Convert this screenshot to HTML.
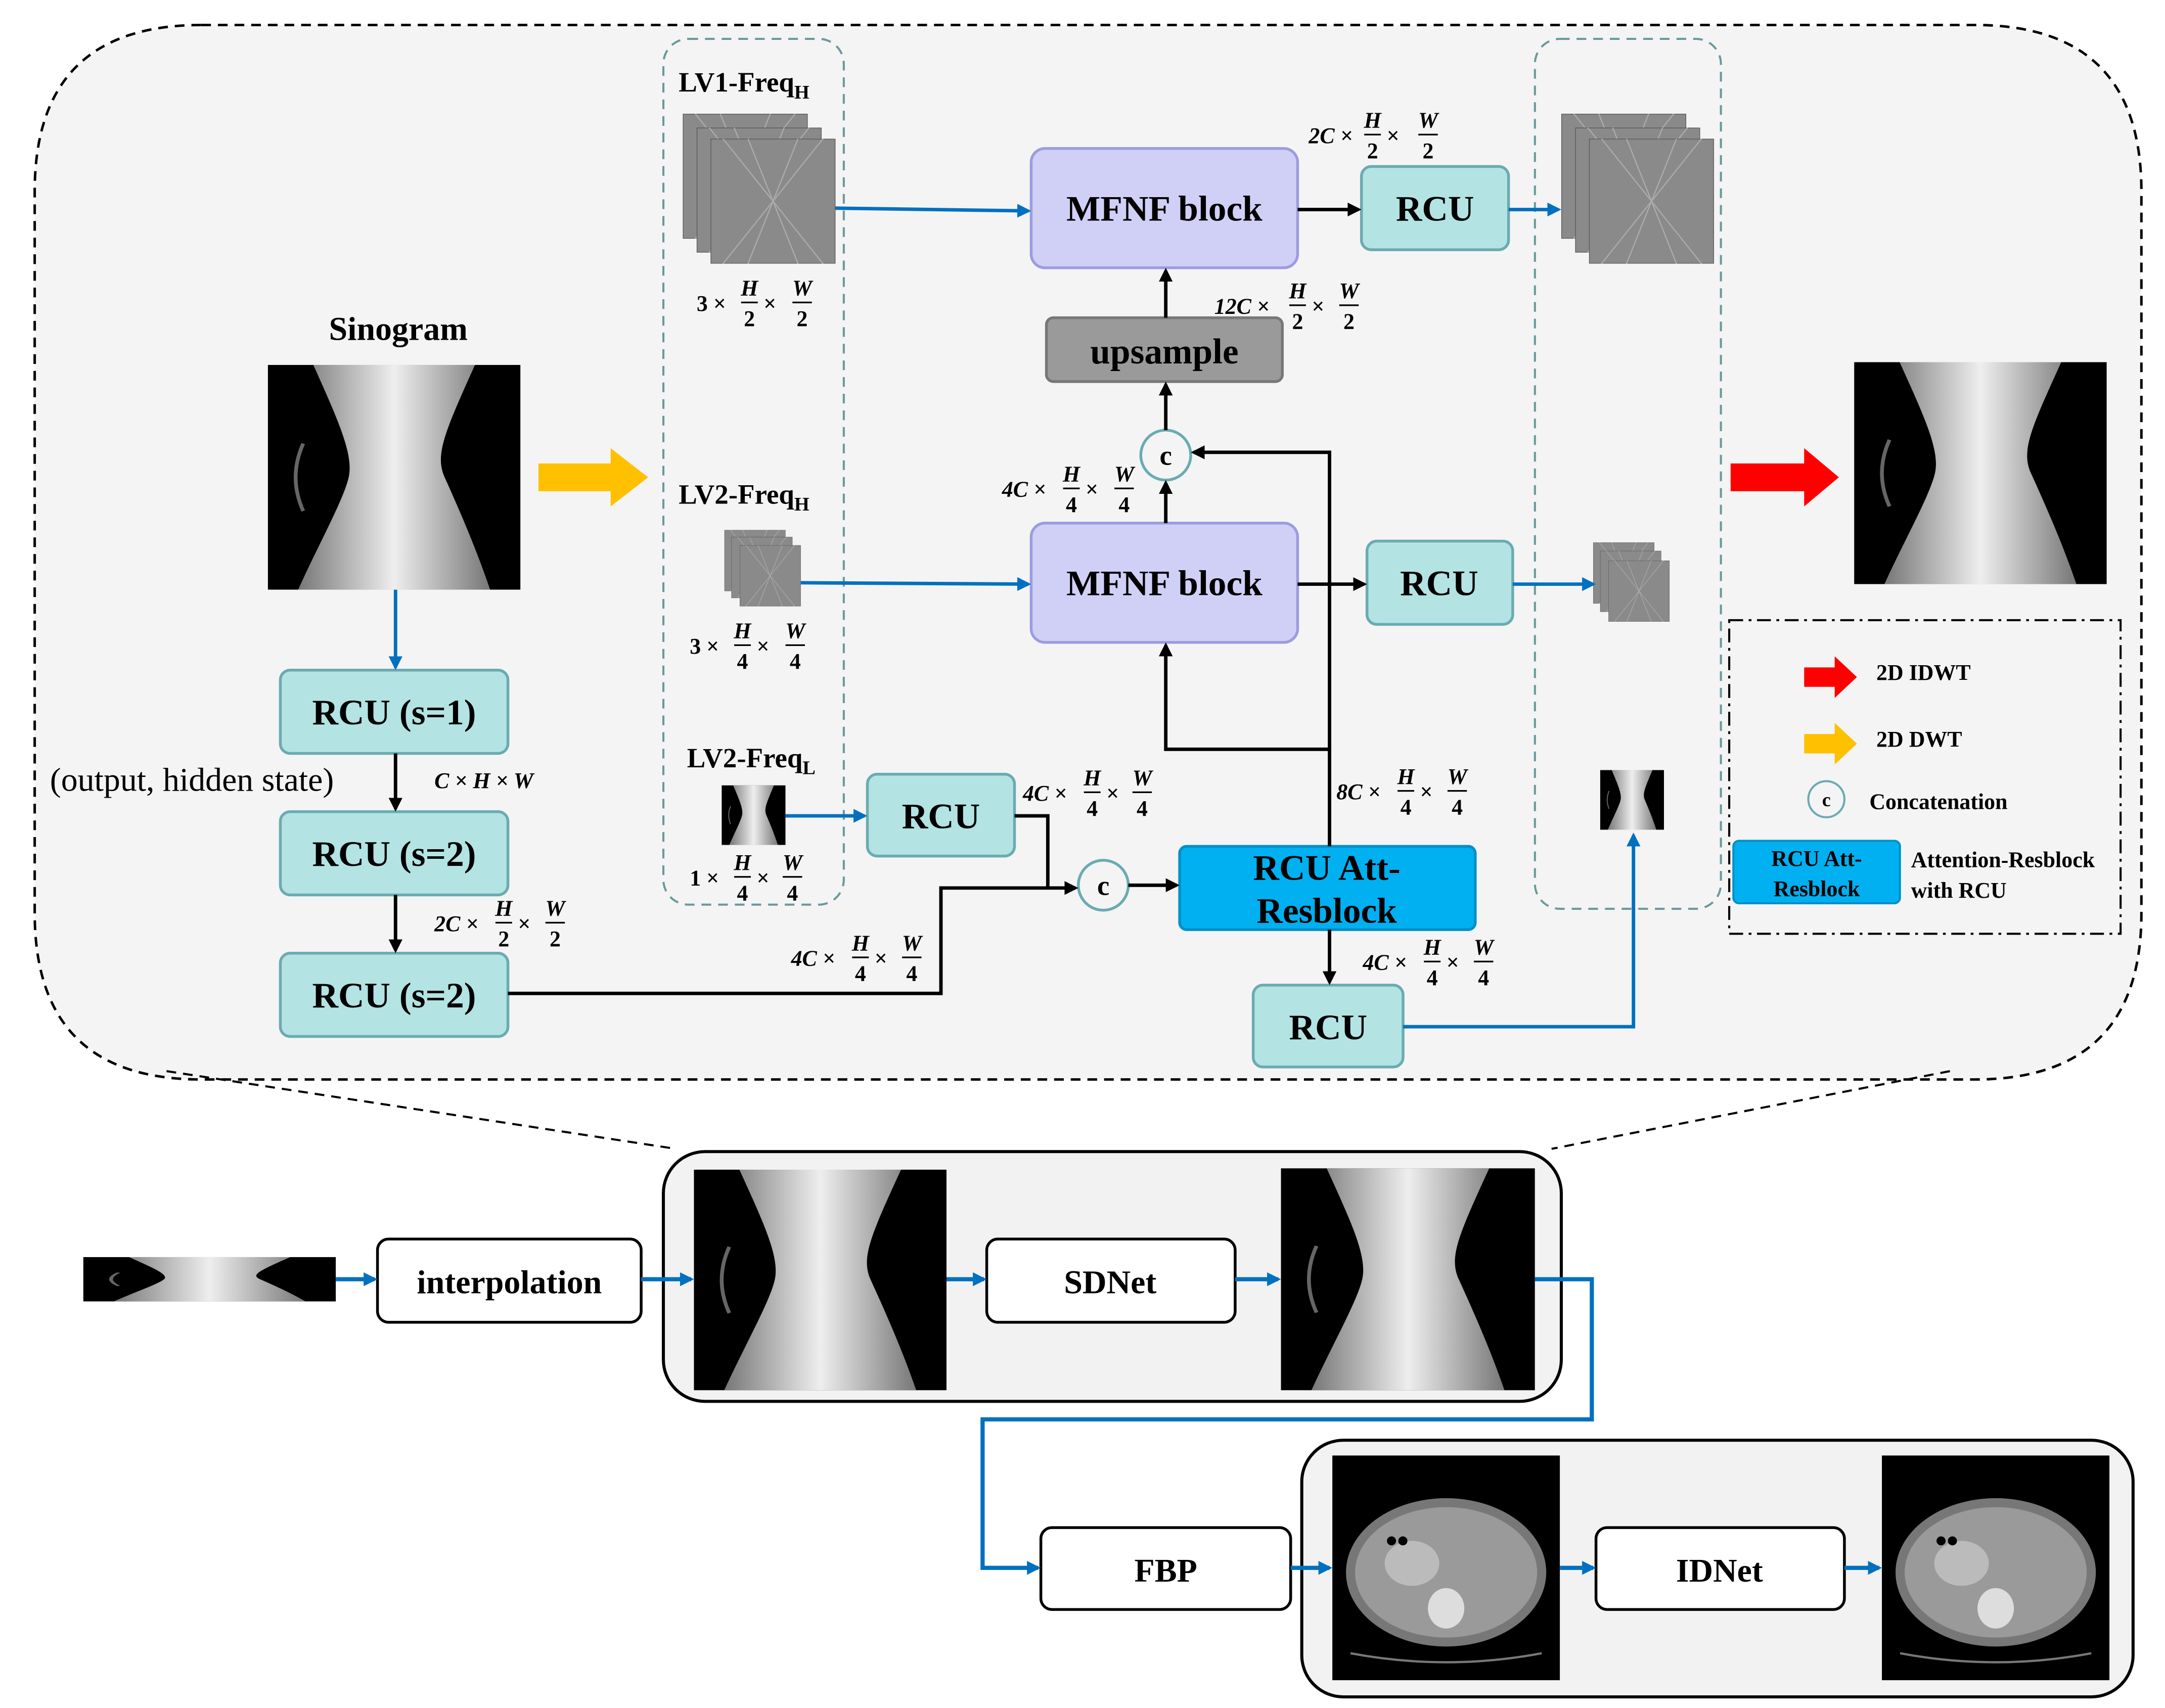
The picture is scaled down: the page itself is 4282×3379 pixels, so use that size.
<!DOCTYPE html>
<html><head><meta charset="utf-8"><style>html,body{margin:0;padding:0;background:#fff}svg{display:block}</style></head>
<body>
<svg width="4282" height="3379" viewBox="0 0 1560 1231" xmlns="http://www.w3.org/2000/svg" font-family="'Liberation Serif',serif">
<defs>
<marker id="ab" markerWidth="10" markerHeight="10" refX="8" refY="5" orient="auto" markerUnits="userSpaceOnUse"><path d="M0,0 L10,5 L0,10 z" fill="#0070c0"/></marker>
<marker id="ak" markerWidth="10" markerHeight="10" refX="8" refY="5" orient="auto" markerUnits="userSpaceOnUse"><path d="M0,0 L10,5 L0,10 z" fill="#000"/></marker>
<linearGradient id="sg" x1="0" x2="1"><stop offset="0" stop-color="#777"/><stop offset="0.5" stop-color="#eee"/><stop offset="1" stop-color="#777"/></linearGradient>
<symbol id="sino" viewBox="0 0 100 100" preserveAspectRatio="none">
<rect width="100" height="100" fill="#000"/>
<path d="M18,0 L82,0 C70,30 66,40 70,50 C74,60 82,80 88,100 L12,100 C20,80 30,60 32,50 C34,40 28,25 18,0 z" fill="url(#sg)"/>
<path d="M14,35 C10,45 10,55 14,65" stroke="#666" stroke-width="1.5" fill="none"/>
</symbol>
<symbol id="ct" viewBox="0 0 100 100" preserveAspectRatio="none">
<rect width="100" height="100" fill="#000"/>
<ellipse cx="50" cy="52" rx="44" ry="33" fill="#777"/>
<ellipse cx="50" cy="52" rx="40" ry="29" fill="#9a9a9a"/>
<ellipse cx="35" cy="48" rx="12" ry="10" fill="#bbb"/>
<ellipse cx="50" cy="68" rx="8" ry="9" fill="#ddd"/>
<circle cx="26" cy="38" r="2" fill="#000"/><circle cx="31" cy="38" r="2" fill="#000"/>
<path d="M8,88 Q50,96 92,88" stroke="#777" fill="none"/>
</symbol>
<symbol id="tex" viewBox="0 0 100 100" preserveAspectRatio="none">
<rect width="100" height="100" fill="#8a8a8a" stroke="#555"/>
<path d="M10,0 L90,100 M90,0 L10,100 M30,0 L70,100 M70,0 L30,100" stroke="#aaa" stroke-width="1"/>
</symbol>
</defs>

<!-- big dashed region -->
<path d="M145,18 L1423,18 Q1543,18 1543,138 L1543,658 Q1543,778 1423,778 L145,778 Q25,778 25,658 L25,138 Q25,18 145,18 z" fill="#f4f4f4" stroke="#000" stroke-width="1.8" stroke-dasharray="7,5"/>
<line x1="120" y1="772" x2="487" y2="828" stroke="#000" stroke-width="1.5" stroke-dasharray="7,5"/>
<line x1="1405" y1="772" x2="1118" y2="828" stroke="#000" stroke-width="1.5" stroke-dasharray="7,5"/>

<!-- dashed teal columns -->
<rect x="478" y="28" width="130" height="624" rx="18" fill="none" stroke="#6a9a9a" stroke-width="1.5" stroke-dasharray="7,5"/>
<rect x="1106" y="28" width="134" height="627" rx="18" fill="none" stroke="#6a9a9a" stroke-width="1.5" stroke-dasharray="7,5"/>

<!-- sinogram -->
<text x="287" y="245" font-size="24" font-weight="bold" text-anchor="middle">Sinogram</text>
<use href="#sino" x="193" y="263" width="182" height="162"/>
<polygon points="388,334 440,334 440,323 467,344 440,365 440,354 388,354" fill="#ffc000"/>
<polygon points="1247,334 1300,334 1300,323 1325,344 1300,365 1300,354 1247,354" fill="#ff0000"/>
<use href="#sino" x="1336" y="261" width="182" height="160"/>

<!-- LV1 -->
<text x="489" y="66" font-size="20" font-weight="bold">LV1-Freq<tspan font-size="14" dy="5">H</tspan></text>
<use href="#tex" x="492" y="82" width="90" height="90"/><use href="#tex" x="502" y="92" width="90" height="90"/><use href="#tex" x="512" y="100" width="90" height="90"/>
<text x="489" y="363" font-size="20" font-weight="bold">LV2-Freq<tspan font-size="14" dy="5">H</tspan></text>
<use href="#tex" x="522" y="382" width="44" height="44"/><use href="#tex" x="527" y="387" width="44" height="44"/><use href="#tex" x="533" y="393" width="44" height="44"/>
<text x="495" y="553" font-size="20" font-weight="bold">LV2-Freq<tspan font-size="14" dy="5">L</tspan></text>
<use href="#sino" x="520" y="566" width="46" height="43"/>
<!-- outputs -->
<use href="#tex" x="1125" y="82" width="90" height="90"/><use href="#tex" x="1135" y="92" width="90" height="90"/><use href="#tex" x="1145" y="100" width="90" height="90"/>
<use href="#tex" x="1148" y="391" width="44" height="44"/><use href="#tex" x="1153" y="397" width="44" height="44"/><use href="#tex" x="1159" y="404" width="44" height="44"/>
<use href="#sino" x="1153" y="555" width="46" height="43"/>

<!-- boxes -->
<g font-size="26" font-weight="bold" text-anchor="middle">
<rect x="743" y="107" width="192" height="86" rx="10" fill="#d0d0f7" stroke="#9c9ce0" stroke-width="2"/><text x="839" y="159">MFNF block</text>
<rect x="743" y="377" width="192" height="86" rx="10" fill="#d0d0f7" stroke="#9c9ce0" stroke-width="2"/><text x="839" y="429">MFNF block</text>
<rect x="981" y="120" width="106" height="60" rx="7" fill="#b3e3e3" stroke="#6aabb0" stroke-width="2"/><text x="1034" y="159">RCU</text>
<rect x="985" y="390" width="105" height="60" rx="7" fill="#b3e3e3" stroke="#6aabb0" stroke-width="2"/><text x="1037" y="429">RCU</text>
<rect x="754" y="229" width="170" height="46" rx="5" fill="#9a9a9a" stroke="#777" stroke-width="2"/><text x="839" y="262">upsample</text>
<rect x="202" y="483" width="164" height="60" rx="7" fill="#b3e3e3" stroke="#6aabb0" stroke-width="2"/><text x="284" y="522">RCU (s=1)</text>
<rect x="202" y="585" width="164" height="60" rx="7" fill="#b3e3e3" stroke="#6aabb0" stroke-width="2"/><text x="284" y="624">RCU (s=2)</text>
<rect x="202" y="687" width="164" height="60" rx="7" fill="#b3e3e3" stroke="#6aabb0" stroke-width="2"/><text x="284" y="726">RCU (s=2)</text>
<rect x="625" y="558" width="106" height="59" rx="7" fill="#b3e3e3" stroke="#6aabb0" stroke-width="2"/><text x="678" y="597">RCU</text>
<rect x="850" y="610" width="213" height="60" rx="5" fill="#00b0f0" stroke="#0090c8" stroke-width="2"/><text x="956" y="634">RCU Att-</text><text x="956" y="665">Resblock</text>
<rect x="903" y="710" width="108" height="59" rx="7" fill="#b3e3e3" stroke="#6aabb0" stroke-width="2"/><text x="957" y="749">RCU</text>
</g>
<circle cx="840" cy="328" r="18" fill="#f4f4f4" stroke="#6aabb0" stroke-width="2"/><text x="840" y="335" font-size="20" font-weight="bold" text-anchor="middle">c</text>
<circle cx="795" cy="638" r="18" fill="#f4f4f4" stroke="#6aabb0" stroke-width="2"/><text x="795" y="645" font-size="20" font-weight="bold" text-anchor="middle">c</text>

<!-- connectors -->
<g fill="none" stroke-width="2.5">
<path d="M602,150 L741,152" stroke="#0070c0" marker-end="url(#ab)"/>
<path d="M935,151 L979,151" stroke="#000" marker-end="url(#ak)"/>
<path d="M1087,151 L1123,151" stroke="#0070c0" marker-end="url(#ab)"/>
<path d="M840,229 L840,195" stroke="#000" marker-end="url(#ak)"/>
<path d="M840,310 L840,277" stroke="#000" marker-end="url(#ak)"/>
<path d="M840,377 L840,348" stroke="#000" marker-end="url(#ak)"/>
<path d="M958,610 L958,326 L860,326" stroke="#000" marker-end="url(#ak)"/>
<path d="M958,540 L840,540 L840,465" stroke="#000" marker-end="url(#ak)"/>
<path d="M577,420 L741,421" stroke="#0070c0" marker-end="url(#ab)"/>
<path d="M935,421 L983,421" stroke="#000" marker-end="url(#ak)"/>
<path d="M1090,421 L1148,421" stroke="#0070c0" marker-end="url(#ab)"/>
<path d="M285,425 L285,481" stroke="#0070c0" marker-end="url(#ab)"/>
<path d="M285,543 L285,583" stroke="#000" marker-end="url(#ak)"/>
<path d="M285,645 L285,685" stroke="#000" marker-end="url(#ak)"/>
<path d="M366,716 L678,716 L678,640 L775,640" stroke="#000" marker-end="url(#ak)"/>
<path d="M731,588 L755,588 L755,640" stroke="#000"/>
<path d="M813,638 L848,638" stroke="#000" marker-end="url(#ak)"/>
<path d="M566,588 L623,588" stroke="#0070c0" marker-end="url(#ab)"/>
<path d="M958,670 L958,708" stroke="#000" marker-end="url(#ak)"/>
<path d="M1011,740 L1177,740 L1177,602" stroke="#0070c0" marker-end="url(#ab)"/>
</g>

<text x="36" y="570" font-size="24">(output, hidden state)</text>

<!-- dimension labels -->
<g font-size="16" font-weight="bold" font-style="italic" stroke-width="1.2">
<g transform="translate(943,97)"><text y="6">2C ×</text><text x="46" y="-5" text-anchor="middle">H</text><line x1="40" x2="52" stroke="#000"/><text x="46" y="17" text-anchor="middle" font-style="normal">2</text><text x="56" y="6">×</text><text x="86" y="-5" text-anchor="middle">W</text><line x1="79" x2="93" stroke="#000"/><text x="86" y="17" text-anchor="middle" font-style="normal">2</text></g>
<g transform="translate(502,218)"><text y="6" font-style="normal">3 ×</text><text x="38" y="-5" text-anchor="middle">H</text><line x1="32" x2="44" stroke="#000"/><text x="38" y="17" text-anchor="middle" font-style="normal">2</text><text x="48" y="6">×</text><text x="76" y="-5" text-anchor="middle">W</text><line x1="69" x2="83" stroke="#000"/><text x="76" y="17" text-anchor="middle" font-style="normal">2</text></g>
<g transform="translate(875,220)"><text y="6">12C ×</text><text x="60" y="-5" text-anchor="middle">H</text><line x1="54" x2="66" stroke="#000"/><text x="60" y="17" text-anchor="middle" font-style="normal">2</text><text x="70" y="6">×</text><text x="97" y="-5" text-anchor="middle">W</text><line x1="90" x2="104" stroke="#000"/><text x="97" y="17" text-anchor="middle" font-style="normal">2</text></g>
<g transform="translate(722,352)"><text y="6">4C ×</text><text x="50" y="-5" text-anchor="middle">H</text><line x1="44" x2="56" stroke="#000"/><text x="50" y="17" text-anchor="middle" font-style="normal">4</text><text x="60" y="6">×</text><text x="88" y="-5" text-anchor="middle">W</text><line x1="81" x2="95" stroke="#000"/><text x="88" y="17" text-anchor="middle" font-style="normal">4</text></g>
<g transform="translate(497,465)"><text y="6" font-style="normal">3 ×</text><text x="38" y="-5" text-anchor="middle">H</text><line x1="32" x2="44" stroke="#000"/><text x="38" y="17" text-anchor="middle" font-style="normal">4</text><text x="48" y="6">×</text><text x="76" y="-5" text-anchor="middle">W</text><line x1="69" x2="83" stroke="#000"/><text x="76" y="17" text-anchor="middle" font-style="normal">4</text></g>
<text x="313" y="568">C × H × W</text>
<g transform="translate(737,571)"><text y="6">4C ×</text><text x="50" y="-5" text-anchor="middle">H</text><line x1="44" x2="56" stroke="#000"/><text x="50" y="17" text-anchor="middle" font-style="normal">4</text><text x="60" y="6">×</text><text x="86" y="-5" text-anchor="middle">W</text><line x1="79" x2="93" stroke="#000"/><text x="86" y="17" text-anchor="middle" font-style="normal">4</text></g>
<g transform="translate(963,570)"><text y="6">8C ×</text><text x="50" y="-5" text-anchor="middle">H</text><line x1="44" x2="56" stroke="#000"/><text x="50" y="17" text-anchor="middle" font-style="normal">4</text><text x="60" y="6">×</text><text x="87" y="-5" text-anchor="middle">W</text><line x1="80" x2="94" stroke="#000"/><text x="87" y="17" text-anchor="middle" font-style="normal">4</text></g>
<g transform="translate(497,632)"><text y="6" font-style="normal">1 ×</text><text x="38" y="-5" text-anchor="middle">H</text><line x1="32" x2="44" stroke="#000"/><text x="38" y="17" text-anchor="middle" font-style="normal">4</text><text x="48" y="6">×</text><text x="74" y="-5" text-anchor="middle">W</text><line x1="67" x2="81" stroke="#000"/><text x="74" y="17" text-anchor="middle" font-style="normal">4</text></g>
<g transform="translate(313,665)"><text y="6">2C ×</text><text x="50" y="-5" text-anchor="middle">H</text><line x1="44" x2="56" stroke="#000"/><text x="50" y="17" text-anchor="middle" font-style="normal">2</text><text x="60" y="6">×</text><text x="87" y="-5" text-anchor="middle">W</text><line x1="80" x2="94" stroke="#000"/><text x="87" y="17" text-anchor="middle" font-style="normal">2</text></g>
<g transform="translate(570,690)"><text y="6">4C ×</text><text x="50" y="-5" text-anchor="middle">H</text><line x1="44" x2="56" stroke="#000"/><text x="50" y="17" text-anchor="middle" font-style="normal">4</text><text x="60" y="6">×</text><text x="87" y="-5" text-anchor="middle">W</text><line x1="80" x2="94" stroke="#000"/><text x="87" y="17" text-anchor="middle" font-style="normal">4</text></g>
<g transform="translate(982,693)"><text y="6">4C ×</text><text x="50" y="-5" text-anchor="middle">H</text><line x1="44" x2="56" stroke="#000"/><text x="50" y="17" text-anchor="middle" font-style="normal">4</text><text x="60" y="6">×</text><text x="87" y="-5" text-anchor="middle">W</text><line x1="80" x2="94" stroke="#000"/><text x="87" y="17" text-anchor="middle" font-style="normal">4</text></g>
</g>

<!-- legend -->
<rect x="1246" y="447" width="282" height="226" fill="none" stroke="#000" stroke-width="1.5" stroke-dasharray="10,4,2,4"/>
<polygon points="1300,481 1322,481 1322,473 1338,488 1322,503 1322,495 1300,495" fill="#ff0000"/>
<polygon points="1300,529 1322,529 1322,521 1338,536 1322,551 1322,543 1300,543" fill="#ffc000"/>
<g font-size="16" font-weight="bold">
<text x="1352" y="490">2D IDWT</text>
<text x="1352" y="538">2D DWT</text>
<text x="1347" y="583">Concatenation</text>
<text x="1377" y="625">Attention-Resblock</text>
<text x="1377" y="647">with RCU</text>
</g>
<circle cx="1316" cy="576" r="13" fill="#f4f4f4" stroke="#6aabb0" stroke-width="1.5"/><text x="1316" y="581" font-size="14" font-weight="bold" text-anchor="middle">c</text>
<rect x="1249" y="606" width="120" height="45" rx="4" fill="#00b0f0" stroke="#0090c8" stroke-width="1.5"/>
<text x="1309" y="624" font-size="16" font-weight="bold" text-anchor="middle">RCU Att-</text><text x="1309" y="646" font-size="16" font-weight="bold" text-anchor="middle">Resblock</text>

<!-- bottom pipeline -->
<rect x="478" y="830" width="647" height="180" rx="30" fill="#f2f2f2" stroke="#000" stroke-width="2.2"/>
<rect x="938" y="1038" width="599" height="185" rx="30" fill="#f2f2f2" stroke="#000" stroke-width="2.2"/>
<use href="#sino" x="60" y="906" width="182" height="32" transform="rotate(0)"/>
<use href="#sino" x="500" y="843" width="182" height="159"/>
<use href="#sino" x="923" y="842" width="183" height="160"/>
<use href="#ct" x="960" y="1049" width="164" height="162"/>
<use href="#ct" x="1356" y="1049" width="164" height="162"/>
<g font-size="24" font-weight="bold" text-anchor="middle">
<rect x="272" y="893" width="190" height="60" rx="8" fill="#fff" stroke="#000" stroke-width="2"/><text x="367" y="932">interpolation</text>
<rect x="711" y="893" width="179" height="60" rx="8" fill="#fff" stroke="#000" stroke-width="2"/><text x="800" y="932">SDNet</text>
<rect x="750" y="1101" width="180" height="59" rx="8" fill="#fff" stroke="#000" stroke-width="2"/><text x="840" y="1140">FBP</text>
<rect x="1150" y="1101" width="179" height="59" rx="8" fill="#fff" stroke="#000" stroke-width="2"/><text x="1239" y="1140">IDNet</text>
</g>
<g fill="none" stroke="#0070c0" stroke-width="3">
<path d="M242,922 L270,922" marker-end="url(#ab)"/>
<path d="M462,922 L498,922" marker-end="url(#ab)"/>
<path d="M682,922 L709,922" marker-end="url(#ab)"/>
<path d="M890,922 L921,922" marker-end="url(#ab)"/>
<path d="M1106,922 L1147,922 L1147,1023 L708,1023 L708,1130 L748,1130" marker-end="url(#ab)"/>
<path d="M930,1130 L958,1130" marker-end="url(#ab)"/>
<path d="M1124,1130 L1148,1130" marker-end="url(#ab)"/>
<path d="M1329,1130 L1354,1130" marker-end="url(#ab)"/>
</g>
</svg>
</body></html>
